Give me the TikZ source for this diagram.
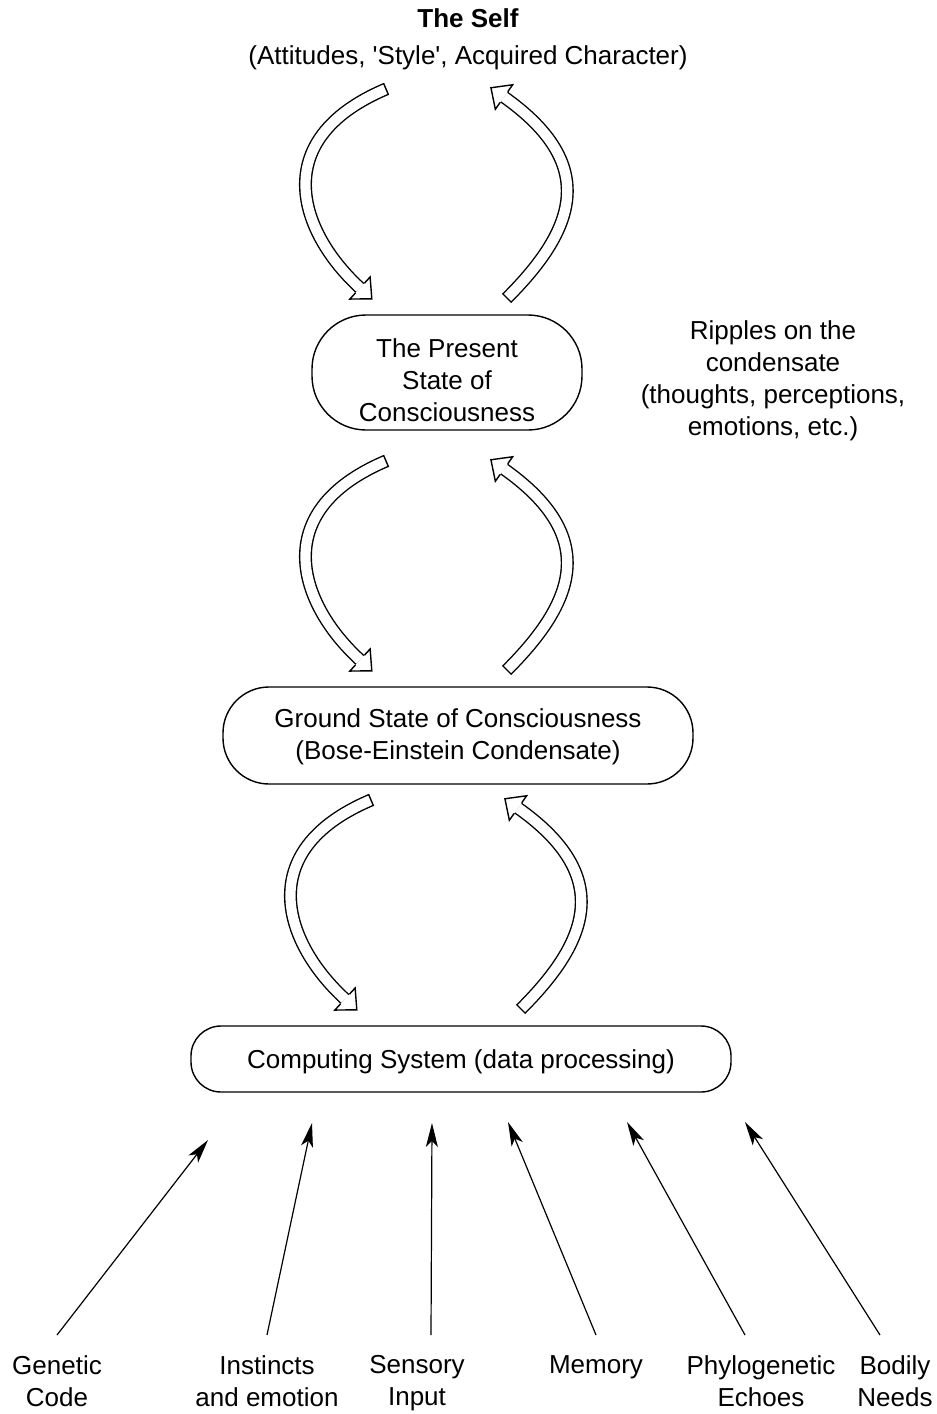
\documentclass[tikz,border=0pt]{standalone}
\usepackage{fontspec}
\setmainfont{Liberation Sans}
\usetikzlibrary{arrows.meta}

\tikzset{
  state/.style={draw, line width=0.7pt, align=center},
  source/.style={anchor=north, align=center, inner ysep=10pt},
  feed/.style={line width=0.6pt, -{Stealth[length=12pt,width=6pt,inset=3pt]}},
  hollow/.style={preaction={draw=black, line width=6.5pt}, draw=white, line width=5.1pt},
  loophead/.pic={
    \fill[white] (0,-7.5pt) -- (8pt,0) -- (0,7.5pt) -- cycle;
    \draw[line width=0.7pt, line join=miter] (0,-3.25pt) -- (0,-7.5pt) -- (8pt,0) -- (0,7.5pt) -- (0,3.25pt);
  },
  looptail/.pic={\draw[line width=0.7pt] (0,-3.25pt) -- (0,3.25pt);}
}

\begin{document}
\begin{tikzpicture}[x=0.5pt, y=-0.5pt, font=\fontsize{13}{16}\selectfont]
\useasboundingbox (0,0) rectangle (937,1414);

\node[align=center] (self) at (468,39) {\textbf{The Self}\\[2.5pt](Attitudes, \textquotesingle Style\textquotesingle, Acquired Character)};

\node[state, minimum width=135pt, minimum height=57.5pt, rounded corners=27pt] (present) at (447,372.5) {\rule{0pt}{17.3pt}The Present\\State of\\Consciousness};

\node[align=center] (ripples) at (773,381) {Ripples on the\\condensate\\(thoughts, perceptions,\\emotions, etc.)};

\node[state, minimum width=235pt, minimum height=48.5pt, rounded corners=23pt] (ground) at (458,735.5) {\rule{0pt}{11pt}Ground State of Consciousness\\(Bose-Einstein Condensate)};

\node[state, minimum width=270pt, minimum height=33pt, rounded corners=15pt] (comp) at (461,1059) {\rule{0pt}{12pt}Computing System (data processing)};

% loops between the levels
\foreach \p/\dxl/\dxr/\dy in {1/0/0/0, 2/0/0/372, 3/-15/14/711}
{
	\coordinate (down\p-a) at (386+\dxl,89+\dy);
	\coordinate (down\p-b) at (360+\dxl,288+\dy);
	\draw[hollow] (down\p-a) .. controls (266+\dxl,140+\dy) and (300+\dxl,233+\dy) .. (down\p-b);
	\pic[rotate=203] at (down\p-a) {looptail};
	\pic[rotate=-42.5] at (down\p-b) {loophead};
	\coordinate (up\p-a) at (507+\dxr,298+\dy);
	\coordinate (up\p-b) at (504+\dxr,97+\dy);
	\draw[hollow] (up\p-a) .. controls (575+\dxr,230+\dy) and (600+\dxr,165+\dy) .. (up\p-b);
	\pic[rotate=45] at (up\p-a) {looptail};
	\pic[rotate=144.7] at (up\p-b) {loophead};
}

% inputs
\foreach \n/\x/\t in {gen/57/{Genetic\\Code}, inst/267/{Instincts\\and emotion}, sens/417/{Sensory\\Input}, mem/596/{Memory}, phyl/761/{Phylogenetic\\Echoes}, bod/895/{Bodily\\Needs}}
	\node[source] (\n) at (\x,1335) {\t};

\foreach \n/\dx/\tx/\ty in {gen/0/208/1140, inst/0/312/1123, sens/7/432/1123, mem/0/508/1122, phyl/-8/627/1122, bod/-7.5/745/1122}
{
	\coordinate (\n-in) at (\tx,\ty);
	\draw[feed] ([xshift=\dx pt]\n.north) -- (\n-in);
}

\end{tikzpicture}
\end{document}
